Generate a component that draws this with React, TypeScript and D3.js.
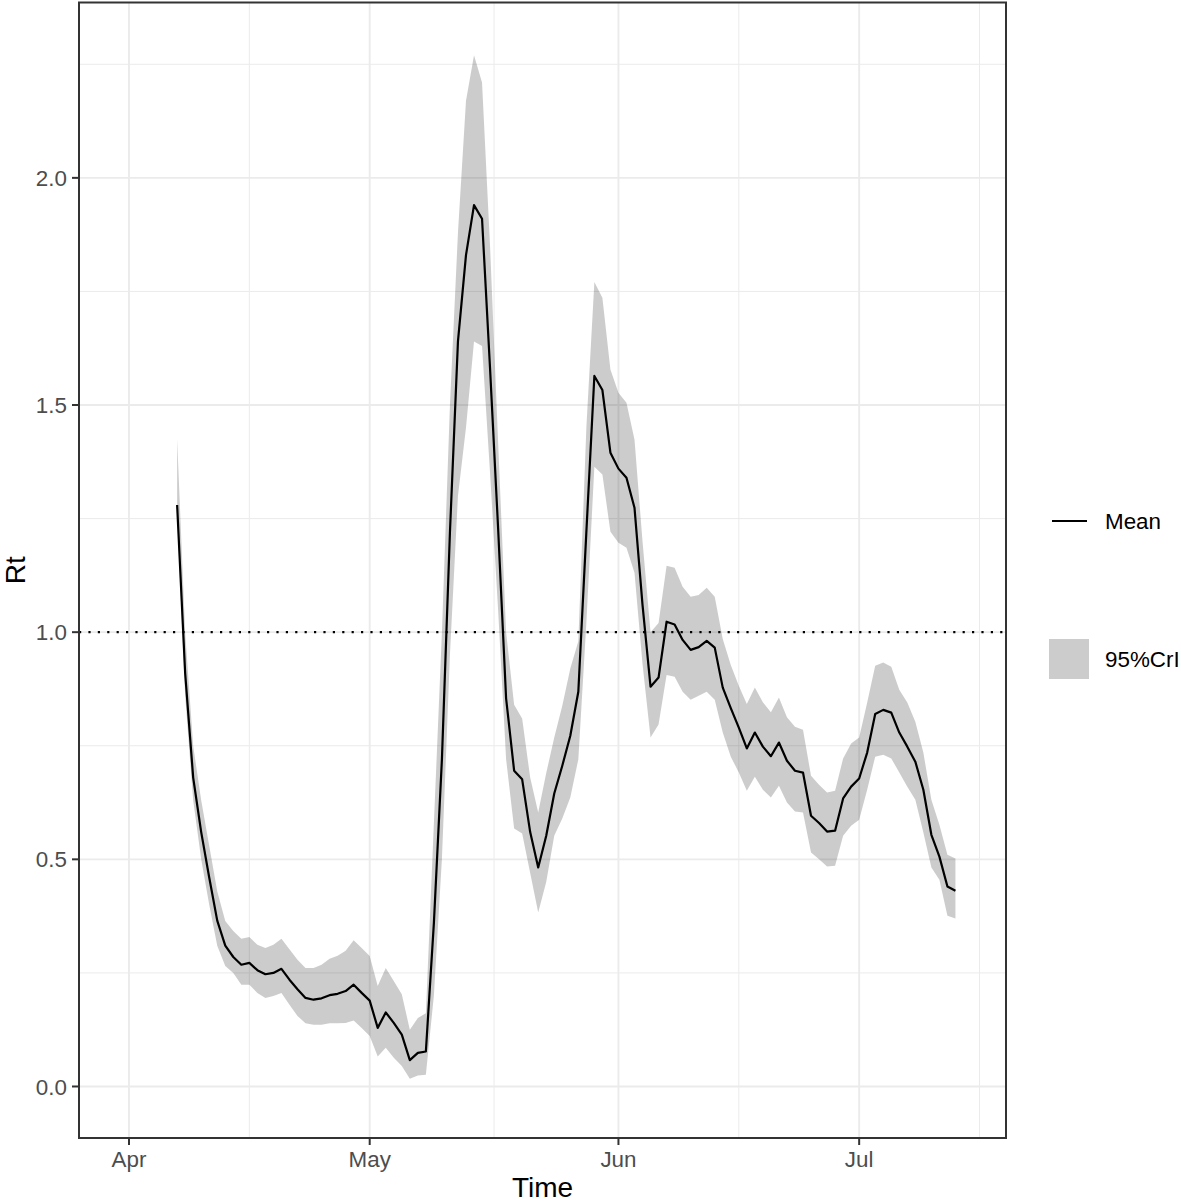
import * as d3 from "d3";

// daily estimates, Apr 7 .. Jul 13 (2020)
const startDate = Date.UTC(2020, 3, 7);

const meanRt = [
  1.28, 0.91, 0.68, 0.56, 0.46, 0.365, 0.31, 0.285, 0.268, 0.272,
  0.256, 0.247, 0.25, 0.259, 0.235, 0.214, 0.195, 0.191, 0.194, 0.201,
  0.204, 0.21, 0.224, 0.206, 0.189, 0.129, 0.163, 0.14, 0.114, 0.058,
  0.074, 0.077, 0.36, 0.72, 1.22, 1.64, 1.83, 1.94, 1.91, 1.58,
  1.23, 0.854, 0.695, 0.676, 0.56, 0.482, 0.552, 0.645, 0.706, 0.772,
  0.869, 1.22, 1.564, 1.533, 1.395, 1.36, 1.34, 1.274, 1.06, 0.88,
  0.9, 1.023, 1.017, 0.983, 0.961, 0.967, 0.981, 0.966, 0.878, 0.833,
  0.79, 0.744, 0.779, 0.748, 0.727, 0.757, 0.717, 0.695, 0.691, 0.596,
  0.58, 0.561, 0.563, 0.634, 0.66, 0.678, 0.735, 0.82, 0.829, 0.823,
  0.779, 0.748, 0.715, 0.653, 0.554, 0.506, 0.44, 0.431,
];

const upperRt = [
  1.425, 1.0, 0.75, 0.63, 0.53, 0.43, 0.364, 0.342, 0.325, 0.329,
  0.312, 0.305, 0.312, 0.325, 0.302, 0.279, 0.261, 0.261, 0.268, 0.281,
  0.288, 0.299, 0.322, 0.305, 0.287, 0.221, 0.261, 0.232, 0.203, 0.125,
  0.151, 0.161, 0.58, 1.0, 1.5, 1.88, 2.17, 2.27, 2.21, 1.85,
  1.42, 1.0, 0.84, 0.81, 0.68, 0.603, 0.69, 0.768, 0.838, 0.92,
  0.98, 1.45, 1.771, 1.736, 1.578, 1.527, 1.505, 1.424, 1.2, 1.0,
  1.02, 1.146, 1.142, 1.1, 1.078, 1.082, 1.098, 1.078, 0.985, 0.928,
  0.882, 0.842, 0.878, 0.846, 0.824, 0.856, 0.813, 0.792, 0.785, 0.684,
  0.664, 0.647, 0.651, 0.722, 0.755, 0.768, 0.845, 0.926, 0.933, 0.924,
  0.873, 0.845, 0.803, 0.735, 0.631, 0.576, 0.51, 0.502,
];

const lowerRt = [
  1.26, 0.86, 0.63, 0.5, 0.4, 0.31, 0.265, 0.25, 0.224, 0.224,
  0.206, 0.195, 0.199, 0.206, 0.18, 0.155, 0.139, 0.136, 0.136, 0.139,
  0.139, 0.14, 0.145, 0.129, 0.111, 0.066, 0.085, 0.063, 0.045, 0.017,
  0.024, 0.026, 0.2, 0.5, 0.95, 1.3, 1.45, 1.64, 1.63, 1.35,
  1.05, 0.72, 0.568, 0.557, 0.47, 0.383, 0.45, 0.552, 0.59, 0.636,
  0.72, 1.02, 1.364, 1.347, 1.221, 1.197, 1.186, 1.131, 0.93, 0.768,
  0.797, 0.906, 0.902, 0.869, 0.851, 0.86, 0.869, 0.851, 0.779, 0.726,
  0.691, 0.651, 0.682, 0.653, 0.636, 0.662, 0.625, 0.605, 0.603, 0.515,
  0.5, 0.484, 0.486, 0.552, 0.574, 0.587, 0.653, 0.726, 0.73, 0.722,
  0.691, 0.66, 0.631, 0.559, 0.482, 0.455, 0.376, 0.37,
];

const monthTicks = [
  new Date(Date.UTC(2020, 3, 1)),
  new Date(Date.UTC(2020, 4, 1)),
  new Date(Date.UTC(2020, 5, 1)),
  new Date(Date.UTC(2020, 6, 1)),
];
const monthLabels = ["Apr", "May", "Jun", "Jul"];
const minorDates = [
  new Date(Date.UTC(2020, 3, 16)),
  new Date(Date.UTC(2020, 4, 16, 12)),
  new Date(Date.UTC(2020, 5, 16)),
  new Date(Date.UTC(2020, 6, 16)),
];
const yTicks = [0, 0.5, 1, 1.5, 2];
const yMinor = [0.25, 0.75, 1.25, 1.75, 2.25];

const FONT = "'Liberation Sans', Arial, Helvetica, sans-serif";

export default function App() {
  const W = 1181,
    H = 1203;
  const panel = { left: 79, right: 1006, top: 2.5, bottom: 1138 };

  const x = d3
    .scaleUtc()
    .domain([new Date(Date.UTC(2020, 2, 25, 18, 30)), new Date(Date.UTC(2020, 6, 19, 7, 12))])
    .range([panel.left, panel.right]);
  const y = d3.scaleLinear().domain([-0.1134, 2.386]).range([panel.bottom, panel.top]);

  const data = meanRt.map((m, i) => ({
    date: new Date(startDate + i * 86400000),
    mean: m,
    lo: lowerRt[i],
    hi: upperRt[i],
  }));

  const area = d3
    .area<any>()
    .x((d) => x(d.date))
    .y0((d) => y(d.lo))
    .y1((d) => y(d.hi));
  const line = d3
    .line<any>()
    .x((d) => x(d.date))
    .y((d) => y(d.mean));

  const grid = "#EBEBEB";

  return (
    <svg
      width={W}
      height={H}
      style={{ position: "absolute", left: 0, top: 0, background: "#fff" }}
      fontFamily={FONT}
    >
      <rect x={0} y={0} width={W} height={H} fill="#fff" />
      {/* minor grid */}
      {yMinor.map((v) => (
        <line key={"ym" + v} x1={panel.left} x2={panel.right} y1={y(v)} y2={y(v)} stroke={grid} strokeWidth={1} />
      ))}
      {minorDates.map((d, i) => (
        <line key={"xm" + i} x1={x(d)} x2={x(d)} y1={panel.top} y2={panel.bottom} stroke={grid} strokeWidth={1} />
      ))}
      {/* major grid */}
      {yTicks.map((v) => (
        <line key={"yg" + v} x1={panel.left} x2={panel.right} y1={y(v)} y2={y(v)} stroke={grid} strokeWidth={1.9} />
      ))}
      {monthTicks.map((d, i) => (
        <line key={"xg" + i} x1={x(d)} x2={x(d)} y1={panel.top} y2={panel.bottom} stroke={grid} strokeWidth={1.9} />
      ))}

      {/* 95% CrI ribbon */}
      <path d={area(data) || ""} fill="#000" fillOpacity={0.2} />
      {/* reference line */}
      <line
        x1={panel.left}
        x2={panel.right}
        y1={y(1)}
        y2={y(1)}
        stroke="#000"
        strokeWidth={2.2}
        strokeDasharray="2.2 7.2"
      />
      {/* mean */}
      <path d={line(data) || ""} fill="none" stroke="#000" strokeWidth={2.2} strokeLinejoin="round" />

      {/* panel border */}
      <rect
        x={panel.left}
        y={panel.top}
        width={panel.right - panel.left}
        height={panel.bottom - panel.top}
        fill="none"
        stroke="#333"
        strokeWidth={2}
      />

      {/* y axis */}
      {yTicks.map((v) => (
        <g key={"yt" + v}>
          <line x1={panel.left - 7} x2={panel.left} y1={y(v)} y2={y(v)} stroke="#333" strokeWidth={2} />
          <text x={panel.left - 12} y={y(v)} dy="0.36em" textAnchor="end" fontSize={22.4} fill="#4D4D4D">
            {v.toFixed(1)}
          </text>
        </g>
      ))}
      {/* x axis */}
      {monthTicks.map((d, i) => (
        <g key={"xt" + i}>
          <line x1={x(d)} x2={x(d)} y1={panel.bottom} y2={panel.bottom + 7} stroke="#333" strokeWidth={2} />
          <text x={x(d)} y={1167} textAnchor="middle" fontSize={22.4} fill="#4D4D4D">
            {monthLabels[i]}
          </text>
        </g>
      ))}

      {/* axis titles */}
      <text x={(panel.left + panel.right) / 2} y={1197} textAnchor="middle" fontSize={28} fill="#000">
        Time
      </text>
      <text
        transform={`translate(25, ${(panel.top + panel.bottom) / 2}) rotate(-90)`}
        textAnchor="middle"
        fontSize={28}
        fill="#000"
      >
        Rt
      </text>

      {/* legend */}
      <line x1={1052} x2={1087} y1={521} y2={521} stroke="#000" strokeWidth={2.2} />
      <text x={1105} y={521} dy="0.36em" fontSize={22.4} fill="#000">
        Mean
      </text>
      <rect x={1049} y={639} width={40} height={40} fill="#000" fillOpacity={0.2} />
      <text x={1105} y={659} dy="0.36em" fontSize={22.4} fill="#000">
        95%CrI
      </text>
    </svg>
  );
}
